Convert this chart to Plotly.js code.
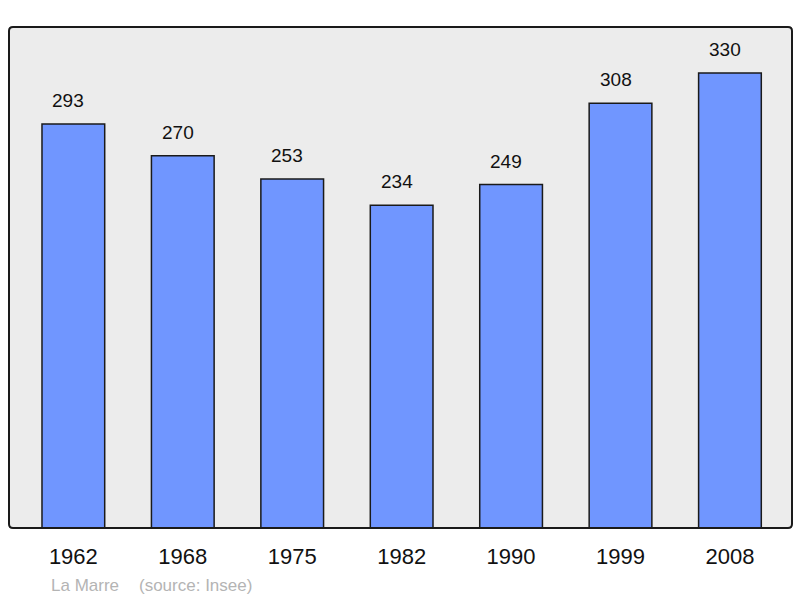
<!DOCTYPE html>
<html><head><meta charset="utf-8">
<script src="https://cdn.plot.ly/plotly-3.0.1.min.js"></script>
<style>html,body{margin:0;padding:0;background:#fff;}#chart{width:800px;height:598px;}</style>
</head><body><div id="chart"></div>
<script>
var years = ["1962","1968","1975","1982","1990","1999","2008"];
var population = [293,270,253,234,249,308,330];
var placeName = "La Marre";
var sourceText = "(source: Insee)";

var xs = years.map(function(_, i){ return i; });
var FONT = 'Liberation Sans, Arial, sans-serif';

var trace = {
  type: 'bar',
  x: xs,
  y: population,
  width: 0.573,
  marker: {color: '#7096ff', line: {color: '#1a1a1a', width: 1.5}},
  hoverinfo: 'skip'
};

var annotations = population.map(function(v, i){
  return {x: i, y: v, xref: 'x', yref: 'y', text: String(v), showarrow: false,
    yanchor: 'bottom', yshift: 11, xshift: -5, font: {family: FONT, size: 19, color: '#111'}};
});
annotations.push({xref: 'paper', yref: 'paper', x: 0.0511, y: -0.114, xanchor: 'left', yanchor: 'middle',
  text: placeName, showarrow: false, font: {family: FONT, size: 17, color: '#b4b4b4'}});
annotations.push({xref: 'paper', yref: 'paper', x: 0.163, y: -0.114, xanchor: 'left', yanchor: 'middle',
  text: sourceText, showarrow: false, font: {family: FONT, size: 17, color: '#b4b4b4'}});

var rx = 4/783, ry = 4/501;
var framePath = 'M ' + rx + ' 0 L ' + (1-rx) + ' 0 Q 1 0 1 ' + ry + ' L 1 ' + (1-ry) + ' Q 1 1 ' + (1-rx) + ' 1 L ' + rx + ' 1 Q 0 1 0 ' + (1-ry) + ' L 0 ' + ry + ' Q 0 0 ' + rx + ' 0 Z';

var layout = {
  width: 800, height: 598,
  margin: {l: 9, r: 8, t: 27, b: 70, pad: 0},
  paper_bgcolor: '#ffffff',
  plot_bgcolor: '#ececec',
  showlegend: false,
  xaxis: {
    range: [-0.588, 6.567],
    tickvals: xs, ticktext: years,
    showgrid: false, zeroline: false, showline: false, ticks: '',
    ticklabelstandoff: 13,
    tickfont: {family: FONT, size: 22, color: '#111'},
    fixedrange: true
  },
  yaxis: {
    range: [0, 363.3],
    showgrid: false, zeroline: false, showline: false, showticklabels: false, ticks: '',
    fixedrange: true
  },
  shapes: [{type: 'path', xref: 'paper', yref: 'paper', path: framePath,
    line: {color: '#1a1a1a', width: 2}, fillcolor: 'rgba(0,0,0,0)', layer: 'above'}],
  annotations: annotations
};

Plotly.newPlot('chart', [trace], layout, {displayModeBar: false, staticPlot: true});
</script></body></html>
